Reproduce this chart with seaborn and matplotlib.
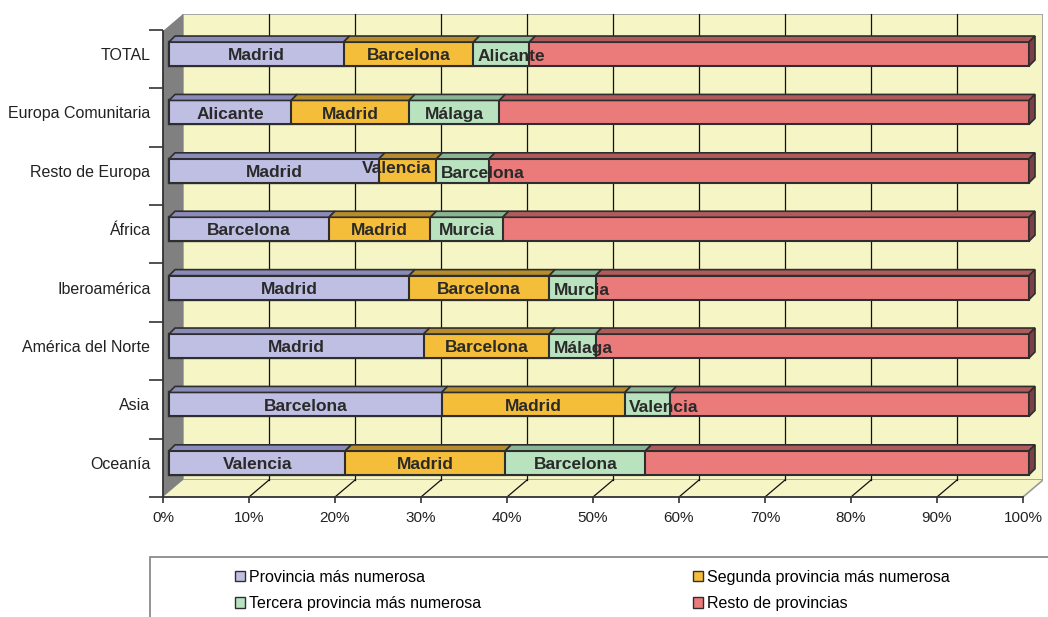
import numpy as np
import pandas as pd
import seaborn as sns
import matplotlib.pyplot as plt
from matplotlib.patches import Polygon, Rectangle, Patch

# =========================
# Data
# =========================
regions = ["TOTAL", "Europa Comunitaria", "Resto de Europa", "África",
           "Iberoamérica", "América del Norte", "Asia", "Oceanía"]
first = [20.3, 14.2, 24.4, 18.6, 27.9, 29.6, 31.7, 20.5]
second = [15.1, 13.7, 6.7, 11.8, 16.3, 14.6, 21.3, 18.6]
third = [6.5, 10.5, 6.1, 8.4, 5.4, 5.4, 5.3, 16.3]
first_names = ["Madrid", "Alicante", "Madrid", "Barcelona", "Madrid", "Madrid", "Barcelona", "Valencia"]
second_names = ["Barcelona", "Madrid", "Valencia", "Madrid", "Barcelona", "Barcelona", "Madrid", "Madrid"]
third_names = ["Alicante", "Málaga", "Barcelona", "Murcia", "Murcia", "Málaga", "Valencia", "Barcelona"]
series = ["Provincia más numerosa", "Segunda provincia más numerosa",
          "Tercera provincia más numerosa", "Resto de provincias"]
xticks = np.arange(0, 101, 10)

df = pd.DataFrame({"region": regions, "first": first, "second": second, "third": third})
df["rest"] = 100 - df["first"] - df["second"] - df["third"]
df["c1"] = df["first"]
df["c2"] = df["c1"] + df["second"]
df["c3"] = df["c2"] + df["third"]
df["c4"] = df["c3"] + df["rest"]

front = ["#BFBFE4", "#F5BE3A", "#B9E2BF", "#EB7B7B"]
top = ["#8B8BB9", "#B68C2C", "#89B593", "#B05A5C"]
side = "#7A4046"
edge = "#2e2e2e"
wall_yellow = "#F5F5C6"
wall_gray = "#808080"

# 3D offsets (in data units: 1% = 8.6 px, 1 category = 58.4 px)
ux, uy = 8.6, 58.4
bdx, bdy = 6 / ux, 6 / uy            # bar depth
fx, fy = -6 / ux, 5 / uy             # front plane relative to bar front
wx = 14 / ux                         # back wall relative to bar front
h = 0.205                            # half bar height
n = len(regions)
y_floor_front = (497 - 54) / uy
y_floor_back = (480 - 54) / uy
y_wall_top = (14 - 54) / uy
y_front_top = y_wall_top + (y_floor_front - y_floor_back)

plt.rcParams["font.family"] = ["Liberation Sans", "DejaVu Sans"]
fig = plt.figure(figsize=(10.48, 6.17), dpi=100)
ax = fig.add_axes([163 / 1048, (617 - 497) / 617, 880 / 1048, 483 / 617])
ax.set_facecolor("none")

# =========================
# Walls and floor
# =========================
ax.add_patch(Rectangle((wx, y_wall_top), 100, y_floor_back - y_wall_top,
                       facecolor=wall_yellow, edgecolor="#9a9a9a", lw=1.2, zorder=0))
ax.add_patch(Polygon([(fx, y_floor_front), (100 + fx, y_floor_front),
                      (100 + wx, y_floor_back), (wx, y_floor_back)],
                     closed=True, facecolor=wall_yellow, edgecolor="none", zorder=0))
ax.plot([100 + fx, 100 + wx], [y_floor_front, y_floor_back], color="#9a9a9a", lw=1.2, zorder=1)
ax.add_patch(Polygon([(fx, y_floor_front), (wx, y_floor_back), (wx, y_wall_top),
                      (fx, y_front_top)],
                     closed=True, facecolor=wall_gray, edgecolor="none", zorder=0.5))
for p in xticks[1:-1]:
    ax.plot([p + wx, p + wx], [y_wall_top, y_floor_back], color="#111", lw=0.9, zorder=1)
    ax.plot([p + fx, p + wx], [y_floor_front, y_floor_back], color="#111", lw=0.9, zorder=1)

# =========================
# Bars (stacked by overlapping cumulative sums)
# =========================
for col, c in zip(["c4", "c3", "c2", "c1"], front[::-1]):
    sns.barplot(data=df, x=col, y="region", color=c, saturation=1, width=2 * h,
                edgecolor=edge, linewidth=1.5, ax=ax, zorder=3)

ax.set_xlim(fx, 100 + wx)
ax.set_ylim(y_floor_front, y_wall_top)

# 3D top / side faces and labels
fig.canvas.draw()
renderer = fig.canvas.get_renderer()
for i in range(n):
    lefts = [0, df["c1"][i], df["c2"][i], df["c3"][i]]
    widths = [df["first"][i], df["second"][i], df["third"][i], df["rest"][i]]
    names = [first_names[i], second_names[i], third_names[i], ""]
    for l, w, tc in zip(lefts, widths, top):
        ax.add_patch(Polygon([(l, i - h), (l + w, i - h), (l + w + bdx, i - h - bdy),
                              (l + bdx, i - h - bdy)], closed=True, facecolor=tc,
                             edgecolor=edge, lw=1.2, zorder=4))
    end = df["c4"][i]
    ax.add_patch(Polygon([(end, i - h), (end + bdx, i - h - bdy), (end + bdx, i + h - bdy),
                          (end, i + h)], closed=True, facecolor=side,
                         edgecolor=edge, lw=1.2, zorder=4))
    for k, (l, w, name) in enumerate(zip(lefts, widths, names)):
        if not name:
            continue
        t = ax.text(l + w / 2, i + 0.03, name, ha="center", va="center",
                    fontsize=12.5, fontweight="bold", color="#2a2a2a", zorder=6)
        tw = t.get_window_extent(renderer).width / ux
        if tw > w - 0.5:
            # narrow segment: hang the label out of the bar like the original
            if k == 1:
                t.set_x(l + w - 0.6)
                t.set_ha("right")
                t.set_y(i - 0.04)
            else:
                t.set_x(l + 0.5)
                t.set_ha("left")
                t.set_y(i + 0.05)

# =========================
# Axes styling
# =========================
ax.set_xlabel("")
ax.set_ylabel("")
for s in ["top", "right"]:
    ax.spines[s].set_visible(False)
ax.spines["left"].set_bounds(y_front_top, y_floor_front)
ax.spines["bottom"].set_bounds(fx, 100 + fx)
for s in ["left", "bottom"]:
    ax.spines[s].set_color("#333")
    ax.spines[s].set_linewidth(1.3)
    ax.spines[s].set_zorder(2)

ax.set_yticks(range(n))
ax.set_yticklabels(regions, fontsize=11.5, color="#222")
ax.tick_params(axis="y", which="major", length=0, pad=9)
ax.set_yticks(np.arange(n + 1) - 0.5 + fy, minor=True)
ax.tick_params(axis="y", which="minor", length=10, width=1.2, color="#333")

ax.set_xticks(xticks + fx)
ax.set_xticklabels([f"{v}%" for v in xticks], fontsize=11, color="#222")
ax.tick_params(axis="x", length=4, width=1.2, color="#333", pad=6)

# =========================
# Legend
# =========================
fig.add_artist(Rectangle((150 / 1048, -0.1), 1.0, (617 - 557) / 617 + 0.1,
                         transform=fig.transFigure, fill=False,
                         edgecolor="#8a8a8a", lw=1.3))
handles = [Patch(facecolor=c, edgecolor=edge, label=s) for c, s in zip(front, series)]
kw = dict(loc="upper left", ncol=1, frameon=False, fontsize=11.5, handlelength=0.6,
          handleheight=0.6, handletextpad=0.3, labelspacing=0.7, borderpad=0)
leg1 = fig.legend(handles=[handles[0], handles[2]], bbox_to_anchor=(227 / 1048, 1 - 562 / 617), **kw)
leg2 = fig.legend(handles=[handles[1], handles[3]], bbox_to_anchor=(685 / 1048, 1 - 562 / 617), **kw)

fig.savefig("out.png", dpi=100, facecolor="white")
